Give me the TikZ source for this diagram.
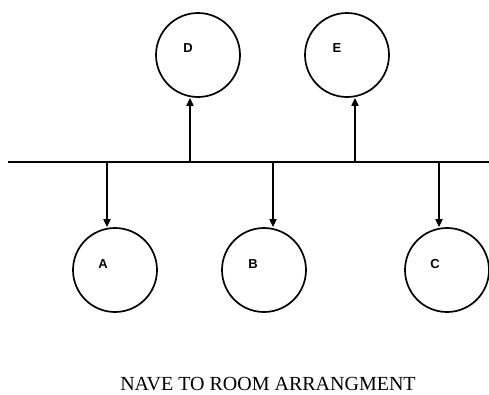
\documentclass[tikz,border=0pt]{standalone}
\usepackage{fontspec}
\setmainfont{Liberation Serif}
\newfontfamily\labelfont{Liberation Sans}
\usetikzlibrary{arrows.meta}
\tikzset{
  room/.style={circle, draw, line width=1.7pt, minimum size=84pt, inner sep=0pt},
  roomlabel/.style={font=\labelfont\bfseries\fontsize{13}{15}\selectfont, inner sep=0pt},
  link/.style={line width=1.7pt, -{Triangle[length=8pt,width=7pt]}},
  bus/.style={line width=1.7pt},
  caption/.style={font=\fontsize{20}{24}\selectfont, inner sep=0pt}
}
\begin{document}
\begin{tikzpicture}[x=1pt,y=-1pt]
\useasboundingbox[fill=white] (0,0) rectangle (489,394);
% rooms
\node[room] (D) at (198,55) {};
\node[room] (E) at (347,55) {};
\node[room] (A) at (115,270) {};
\node[room] (B) at (264,270) {};
\node[room] (C) at (447,270) {};
% labels
\node[roomlabel] (Dl) at (188,48) {D};
\node[roomlabel] (El) at (337,48) {E};
\node[roomlabel] (Al) at (103,264) {A};
\node[roomlabel] (Bl) at (253,264) {B};
\node[roomlabel] (Cl) at (435,264) {C};
% nave (bus line)
\coordinate (busL) at (8,162);
\coordinate (busR) at (489,162);
\draw[bus] (busL) -- (busR);
% junctions on the nave
\coordinate (jD) at (190,162);
\coordinate (jE) at (355,162);
\coordinate (jA) at (107,162);
\coordinate (jB) at (273,162);
\coordinate (jC) at (439,162);
\draw[link] (jD) -- (jD |- D.south);
\draw[link] (jE) -- (jE |- E.south);
\draw[link] (jA) -- (jA |- A.north);
\draw[link] (jB) -- (jB |- B.north);
\draw[link] (jC) -- (jC |- C.north);
% caption
\node[caption] (cap) at (268,384) {NAVE TO ROOM ARRANGMENT};
\end{tikzpicture}
\end{document}
